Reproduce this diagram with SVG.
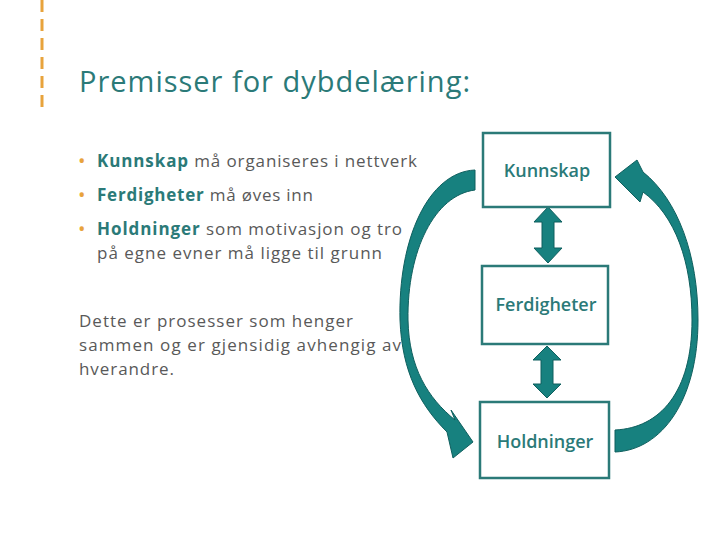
<svg xmlns="http://www.w3.org/2000/svg" width="720" height="540" viewBox="0 0 720 540">
<style>
text{font-family:"Open Sans","Liberation Sans",sans-serif}
.t{fill:#595959;font-size:17px}
.b{fill:#2B7A78;font-weight:bold}
.bul{fill:#E8A33C;font-size:20px}
.box{fill:#fff;stroke:#2B7A78;stroke-width:2.5}
.bl{fill:#2B7A78;font-size:18px;font-weight:600;text-anchor:middle}
.arr{fill:#17817F;stroke:#0F5F5E;stroke-width:1}
</style>
<rect width="720" height="540" fill="#fff"/>
<line x1="42" y1="0" x2="42" y2="113" stroke="#E8A33C" stroke-width="3" stroke-dasharray="12,7"/>
<text x="79" y="92" font-size="29" fill="#2B7A78" textLength="391">Premisser for dybdelæring:</text>
<g>
<text x="78" y="168" class="t bul">•</text><text x="97" y="167" class="t" textLength="320"><tspan class="b">Kunnskap</tspan> må organiseres i nettverk</text>
<text x="78" y="202" class="t bul">•</text><text x="97" y="201" class="t" textLength="216"><tspan class="b">Ferdigheter</tspan> må øves inn</text>
<text x="78" y="236" class="t bul">•</text><text x="97" y="235" class="t" textLength="305"><tspan class="b">Holdninger</tspan> som motivasjon og tro</text>
<text x="97" y="259" class="t" textLength="285">på egne evner må ligge til grunn</text>
<text x="79" y="327" class="t" textLength="274">Dette er prosesser som henger</text>
<text x="79" y="351" class="t" textLength="322">sammen og er gjensidig avhengig av</text>
<text x="79" y="375" class="t" textLength="95">hverandre.</text>
</g>
<g id="connectors">
<path class="arr" d="M475,170 C428,172 398,240 400,320 C402,372 420,405 447,432 L453,458 L473,442 L451,410 L455,420 C428,398 409,368 408,320 C407,250 435,195 475,190 Z"/>
<path class="arr" d="M615,452 C662,450 698,400 698,320 C698,255 678,200 643,172 L637,160 L615,177 L640,202 L643,192 C675,215 692,262 692,320 C692,392 660,428 615,430 Z"/>
<path class="arr" d="M548,207 L562,222 L554,222 L554,248 L562,248 L548,263 L534,248 L542,248 L542,222 L534,222 Z"/>
<path class="arr" d="M547,346 L561,360 L553,360 L553,384 L561,384 L547,398 L533,384 L541,384 L541,360 L533,360 Z"/>
</g>
<g id="kunnskap"><rect class="box" x="483" y="133" width="127" height="74"/><text class="bl" x="547" y="177">Kunnskap</text></g>
<g id="ferdigheter"><rect class="box" x="482" y="266" width="126" height="78"/><text class="bl" x="546" y="311">Ferdigheter</text></g>
<g id="holdninger"><rect class="box" x="480" y="402" width="129" height="76"/><text class="bl" x="545" y="448">Holdninger</text></g>
</svg>
